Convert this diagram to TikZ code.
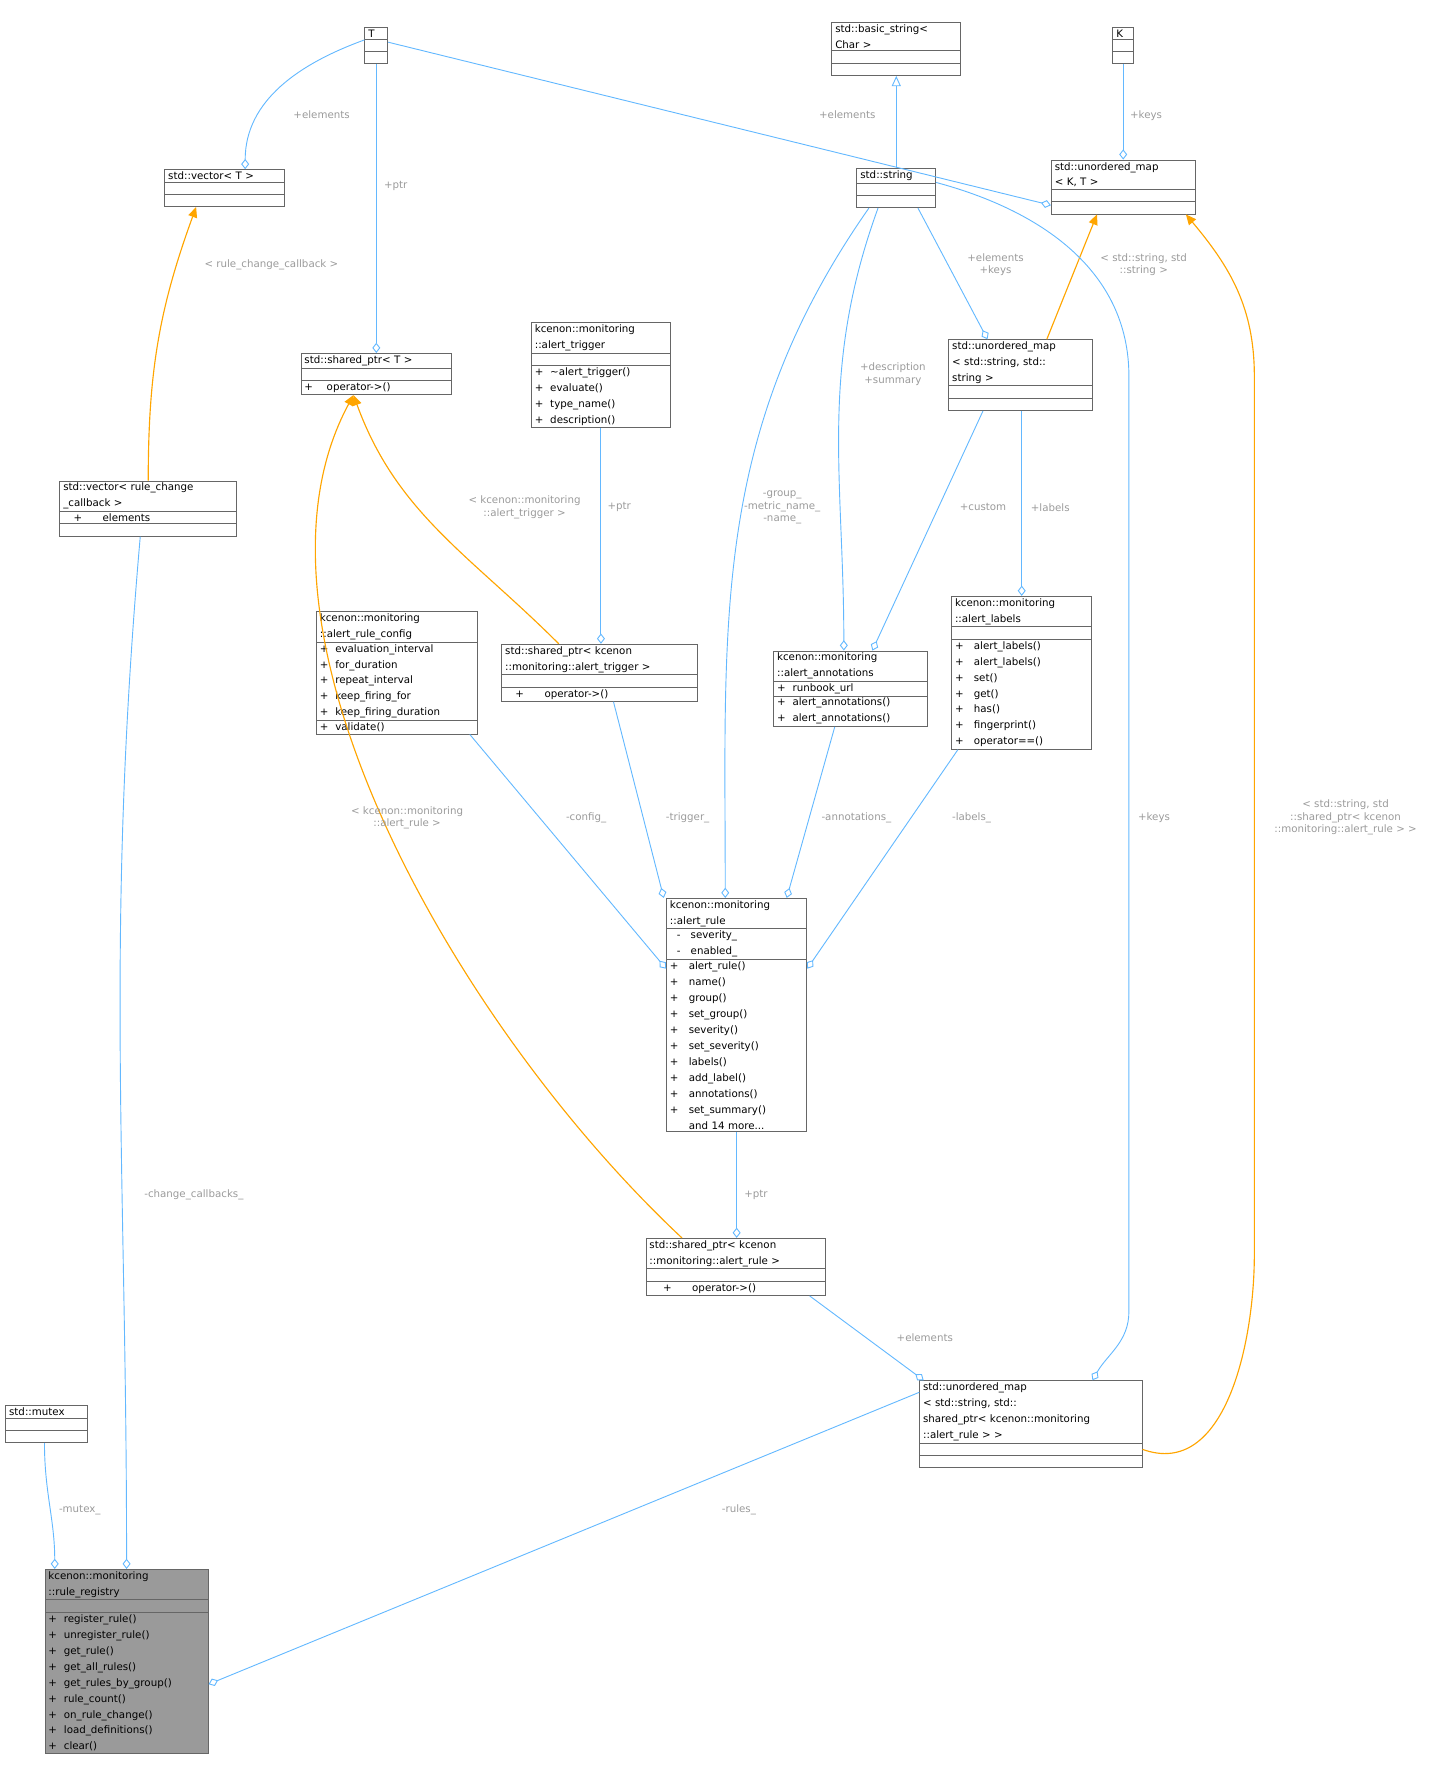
\documentclass[tikz,border=0pt]{standalone}
\usepackage{fontspec}
\setmainfont{DejaVu Sans}
\usetikzlibrary{shapes.multipart,arrows.meta}

\definecolor{edgeblue}{RGB}{99,184,255}
\definecolor{edgeorange}{RGB}{255,165,0}
\definecolor{lblgrey}{RGB}{154,154,154}
\definecolor{boxgrey}{RGB}{102,102,102}
\newcommand{\emptypart}{\rule{0pt}{7pt}}

\tikzset{
  cls/.style={draw=boxgrey, fill=white, rectangle split, rectangle split parts=3,
    rectangle split part align={center,left,left}, inner xsep=3pt, inner ysep=1.5pt,
    font=\fontsize{9}{14}\selectfont, line width=0.8pt},
  agg/.style={draw=edgeblue, line width=0.8pt, -{Diamond[open,length=9pt,width=7pt]}},
  tpl/.style={draw=edgeorange, line width=1pt, -{Triangle[length=9pt,width=8pt]}},
  inh/.style={draw=edgeblue, line width=0.8pt, -{Triangle[open,length=9pt,width=8pt]}},
  lbl/.style={text=lblgrey, font=\fontsize{9}{11}\selectfont, align=center, inner sep=1pt}
}

\begin{document}
\begin{tikzpicture}[x=1pt,y=-1pt]
\useasboundingbox (0,0) rectangle (1265,1568);

% class boxes
\node[cls, text width=14pt] (T) at (330,40) {T\nodepart{second}\emptypart\nodepart{third}\emptypart};
\node[cls, text width=12pt] (K) at (985,40) {K\nodepart{second}\emptypart\nodepart{third}\emptypart};
\node[cls, text width=107pt] (bstr) at (786,43) {std::basic\_string<\\Char >\nodepart{second}\emptypart\nodepart{third}\emptypart};
\node[cls, text width=99pt] (vecT) at (197,165) {std::vector< T >\nodepart{second}\emptypart\nodepart{third}\emptypart};
\node[cls, text width=63pt] (str) at (786,165) {std::string\nodepart{second}\emptypart\nodepart{third}\emptypart};
\node[cls, text width=120pt] (mapKT) at (985,164) {std::unordered\_map\\< K, T >\nodepart{second}\emptypart\nodepart{third}\emptypart};
\node[cls, text width=126pt] (sptrT) at (330,328) {std::shared\_ptr< T >\nodepart{second}\emptypart\nodepart{third}+~~~~operator->()};
\node[cls, text width=116pt] (trig) at (527,329) {kcenon::monitoring\\::alert\_trigger\nodepart{second}\emptypart\nodepart{third}+~~\textasciitilde alert\_trigger()\\+~~evaluate()\\+~~type\_name()\\+~~description()};
\node[cls, text width=120pt] (mapSS) at (895,329) {std::unordered\_map\\< std::string, std::\\string >\nodepart{second}\emptypart\nodepart{third}\emptypart};
\node[cls, text width=149pt] (vecCb) at (130,446) {std::vector< rule\_change\\\_callback >\nodepart{second}~~~+~~~~~~elements\nodepart{third}\emptypart};
\node[cls, text width=135pt] (cfg) at (348,590) {kcenon::monitoring\\::alert\_rule\_config\nodepart{second}+~~evaluation\_interval\\+~~for\_duration\\+~~repeat\_interval\\+~~keep\_firing\_for\\+~~keep\_firing\_duration\nodepart{third}+~~validate()};
\node[cls, text width=166pt] (sptrTrig) at (526,590) {std::shared\_ptr< kcenon\\::monitoring::alert\_trigger >\nodepart{second}\emptypart\nodepart{third}~~~+~~~~~~operator->()};
\node[cls, text width=129pt] (annot) at (746,604) {kcenon::monitoring\\::alert\_annotations\nodepart{second}+~~runbook\_url\nodepart{third}+~~alert\_annotations()\\+~~alert\_annotations()};
\node[cls, text width=117pt] (labels) at (896,590) {kcenon::monitoring\\::alert\_labels\nodepart{second}\emptypart\nodepart{third}+~~~alert\_labels()\\+~~~alert\_labels()\\+~~~set()\\+~~~get()\\+~~~has()\\+~~~fingerprint()\\+~~~operator==()};
\node[cls, text width=117pt] (rule) at (646,890) {kcenon::monitoring\\::alert\_rule\nodepart{second}~~-~~~severity\_\\~~-~~~enabled\_\nodepart{third}+~~~alert\_rule()\\+~~~name()\\+~~~group()\\+~~~set\_group()\\+~~~severity()\\+~~~set\_severity()\\+~~~labels()\\+~~~add\_label()\\+~~~annotations()\\+~~~set\_summary()\\\phantom{+}~~~and 14 more...};
\node[cls, text width=151pt] (sptrRule) at (645,1111) {std::shared\_ptr< kcenon\\::monitoring::alert\_rule >\nodepart{second}\emptypart\nodepart{third}~~~~+~~~~~~operator->()};
\node[cls, text width=66pt] (mtx) at (41,1249) {std::mutex\nodepart{second}\emptypart\nodepart{third}\emptypart};
\node[cls, text width=189pt] (mapRule) at (904,1249) {std::unordered\_map\\< std::string, std::\\shared\_ptr< kcenon::monitoring\\::alert\_rule > >\nodepart{second}\emptypart\nodepart{third}\emptypart};
\node[cls, fill=lblgrey, text width=137pt] (reg) at (111,1457) {kcenon::monitoring\\::rule\_registry\nodepart{second}\emptypart\nodepart{third}+~~register\_rule()\\+~~unregister\_rule()\\+~~get\_rule()\\+~~get\_all\_rules()\\+~~get\_rules\_by\_group()\\+~~rule\_count()\\+~~on\_rule\_change()\\+~~load\_definitions()\\+~~clear()};

% connectors
\draw[agg] ([yshift=5pt]T.west) to[out=200,in=90] ([xshift=18pt]vecT.north);
\node[lbl] (lT1) at (282,101) {+elements};
\draw[agg] ([yshift=3pt]T.east) -- ([yshift=-16pt]mapKT.west);
\node[lbl] (lT2) at (743,101) {+elements};
\draw[agg] (T.south) -- (sptrT.north);
\node[lbl] (lT3) at (347,163) {+ptr};
\draw[agg] (K.south) -- (mapKT.north);
\node[lbl] (lK) at (1005,101) {+keys};
\draw[inh] (str.north) -- (bstr.south);
\draw[tpl] (vecCb.north) to[out=90,in=250] ([xshift=-25pt]vecT.south);
\node[lbl] (lv) at (238,232) {< rule\_change\_callback >};
\draw[tpl] ([xshift=-36pt]sptrTrig.north) to[out=135,in=290] ([xshift=-20pt]sptrT.south);
\node[lbl] (ls1) at (460,445) {< kcenon::monitoring\\::alert\_trigger >};
\draw[tpl] ([xshift=-47pt]sptrRule.north) .. controls (400,900) and (200,550) .. ([xshift=-20pt]sptrT.south);
\node[lbl] (ls2) at (357,717) {< kcenon::monitoring\\::alert\_rule >};
\draw[tpl] ([xshift=23pt]mapSS.north) -- ([xshift=-23pt]mapKT.south);
\node[lbl] (lm1) at (1003,232) {< std::string, std\\::string >};
\draw[tpl] ([yshift=-22pt]mapRule.east) to[out=-20,in=-90] (1100,1100) -- (1100,330) to[out=90,in=-50] ([xshift=55pt]mapKT.south);
\node[lbl] (lm2) at (1180,717) {< std::string, std\\::shared\_ptr< kcenon\\::monitoring::alert\_rule > >};
\draw[agg] ([xshift=19pt]str.south) -- ([xshift=-29pt]mapSS.north);
\node[lbl] (ls3) at (873,232) {+elements\\+keys};
\draw[agg] ([xshift=-16pt]str.south) to[out=250,in=90] ([xshift=-6pt]annot.north);
\node[lbl] (ls4) at (783,328) {+description\\+summary};
\draw[agg] ([xshift=-24pt]str.south) to[out=235,in=90] ([xshift=-10pt]rule.north);
\node[lbl] (ls5) at (686,445) {-group\_\\-metric\_name\_\\-name\_};
\draw[agg] ([yshift=5pt]str.east) to[out=-15,in=90] (990,330) -- (990,1150) to[out=-90,in=60] ([xshift=54pt]mapRule.north);
\node[lbl] (ls6) at (1012,717) {+keys};
\draw[agg] ([xshift=-33pt]mapSS.south) -- ([xshift=19pt]annot.north);
\node[lbl] (lc) at (862,445) {+custom};
\draw[agg] ([xshift=1pt]mapSS.south) -- (labels.north);
\node[lbl] (ll) at (921,445) {+labels};
\draw[agg] (trig.south) -- ([xshift=1pt]sptrTrig.north);
\node[lbl] (lp1) at (543,445) {+ptr};
\draw[agg] ([xshift=64pt]cfg.south) -- ([yshift=-62pt]rule.north west);
\node[lbl] (lcfg) at (514,717) {-config\_};
\draw[agg] ([xshift=12pt]sptrTrig.south) -- ([xshift=-2pt]rule.north west);
\node[lbl] (ltr) at (603,717) {-trigger\_};
\draw[agg] ([xshift=-14pt]annot.south) -- ([xshift=-18pt]rule.north east);
\node[lbl] (lan) at (751,717) {-annotations\_};
\draw[agg] ([xshift=-56pt]labels.south) -- ([yshift=-62pt]rule.north east);
\node[lbl] (llb) at (852,717) {-labels\_};
\draw[agg] (rule.south) -- ([xshift=1pt]sptrRule.north);
\node[lbl] (lp2) at (663,1048) {+ptr};
\draw[agg] ([xshift=65pt]sptrRule.south) -- ([xshift=-94pt]mapRule.north);
\node[lbl] (lel) at (811,1173) {+elements};
\draw[agg] ([xshift=-2pt]mtx.south) to[out=-90,in=90] ([xshift=-63pt]reg.north);
\node[lbl] (lmx) at (70,1324) {-mutex\_};
\draw[agg] ([xshift=-7pt]vecCb.south) to[out=-95,in=90] (reg.north);
\node[lbl] (lcb) at (170,1048) {-change\_callbacks\_};
\draw[agg] ([yshift=28pt]mapRule.west) -- ([yshift=-20pt]reg.east);
\node[lbl] (lr) at (648,1324) {-rules\_};
\end{tikzpicture}
\end{document}
